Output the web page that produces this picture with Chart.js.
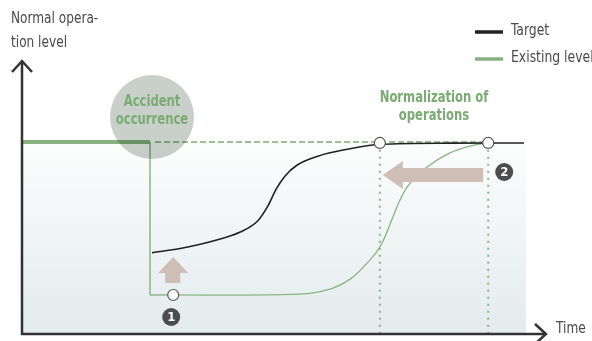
<!DOCTYPE html>
<html>
<head>
<meta charset="utf-8">
<script src="https://cdn.jsdelivr.net/npm/chart.js@4/dist/chart.umd.min.js"></script>
<style>
  html, body { margin: 0; padding: 0; background: #fff; }
  #wrap { width: 592px; height: 341px; position: relative; }
</style>
</head>
<body>
<div id="wrap"><canvas id="c"></canvas></div>
<script>
// time runs 0..100, operation level 0..100 (100 = normal)
const targetTime  = [25.8, 31.9, 37.9, 43.3, 46.8, 48.8, 50.4, 52.2, 54.6, 58.7, 64.1, 71.2, 84.9, 99.6];
const targetLevel = [42.3, 44.8, 48.4, 53.1, 59.0, 66.7, 75.3, 82.3, 88.0, 92.6, 96.0, 98.8, 99.4, 99.5];

const existingTime  = [25.4, 55.2, 61.1, 65.1, 68.1, 71.0, 73.6, 75.0, 77.0, 80.4, 84.9, 88.9, 92.5];
const existingLevel = [20.3, 20.8, 23.4, 28.6, 35.9, 45.3, 60.9, 69.8, 78.6, 87.0, 94.3, 97.9, 99.5];

const normalTime  = [0, 25.4];
const normalLevel = [100, 100];

const accidentTime = 25.4;
const dropLevel = 20.3;
const normalizedTime = [71.0, 92.5];

const markerTime  = [30.0, 71.0, 92.5];
const markerLevel = [20.3, 99.5, 99.5];

const labels = {
  yTitle: ['Normal opera-', 'tion level'],
  xTitle: 'Time',
  accident: ['Accident', 'occurrence'],
  normalization: ['Normalization of', 'operations'],
  legend: ['Target', 'Existing level']
};

const FONT = "'DejaVu Sans Condensed', 'Liberation Sans Narrow', sans-serif";
const GREEN = '#7aab72';
const pts = (xs, ys) => xs.map((x, i) => ({ x, y: ys[i] }));

// narrow text: the original uses a condensed face
function text(ctx, s, x, y, sx) {
  ctx.save();
  ctx.translate(x, y);
  ctx.scale(sx, 1);
  ctx.fillText(s, 0, 0);
  ctx.restore();
}

const decor = {
  id: 'decor',
  beforeDatasetsDraw(chart) {
    const { ctx, chartArea: a } = chart;
    const g = ctx.createLinearGradient(0, a.top, 0, a.bottom);
    g.addColorStop(0, '#fcfdfd');
    g.addColorStop(1, '#e3ebed');
    ctx.save();
    ctx.fillStyle = g;
    ctx.fillRect(a.left, a.top, a.right - a.left, a.bottom - a.top);
    ctx.restore();
  },
  afterDatasetsDraw(chart) {
    const { ctx, chartArea: a, scales: { x, y } } = chart;
    ctx.save();

    // axes with open arrow heads
    ctx.strokeStyle = '#333';
    ctx.lineWidth = 2.5;
    ctx.beginPath();
    ctx.moveTo(a.left, a.bottom + 1);
    ctx.lineTo(a.left, 61);
    ctx.moveTo(a.left - 10, 72);
    ctx.lineTo(a.left, 61);
    ctx.lineTo(a.left + 10, 72);
    ctx.moveTo(a.left - 1, a.bottom);
    ctx.lineTo(a.right + 20, a.bottom);
    ctx.moveTo(a.right + 9, a.bottom - 10);
    ctx.lineTo(a.right + 20, a.bottom);
    ctx.lineTo(a.right + 9, a.bottom + 10);
    ctx.stroke();

    // accident circle
    const cx = x.getPixelForValue(accidentTime) + 2;
    const cy = y.getPixelForValue(100) - 25;
    ctx.globalCompositeOperation = 'multiply';
    ctx.fillStyle = '#c9d0c9';
    ctx.beginPath();
    ctx.arc(cx, cy, 42, 0, Math.PI * 2);
    ctx.fill();
    ctx.globalCompositeOperation = 'source-over';

    ctx.fillStyle = GREEN;
    ctx.font = 'bold 15px ' + FONT;
    ctx.textAlign = 'center';
    ctx.textBaseline = 'middle';
    text(ctx, labels.accident[0], cx, cy - 15, 0.86);
    text(ctx, labels.accident[1], cx, cy + 3, 0.86);

    const nx = (x.getPixelForValue(normalizedTime[0]) + x.getPixelForValue(normalizedTime[1])) / 2;
    text(ctx, labels.normalization[0], nx, 98, 0.86);
    text(ctx, labels.normalization[1], nx, 116, 0.86);

    // left pointing arrow between the two normalisation times
    const x0 = x.getPixelForValue(normalizedTime[0]) + 3;
    const x1 = x.getPixelForValue(normalizedTime[1]) - 5;
    const ay = 175;
    ctx.fillStyle = '#cdbfb6';
    ctx.beginPath();
    ctx.moveTo(x0, ay);
    ctx.lineTo(x0 + 20, ay - 14);
    ctx.lineTo(x0 + 20, ay - 7);
    ctx.lineTo(x1, ay - 7);
    ctx.lineTo(x1, ay + 7);
    ctx.lineTo(x0 + 20, ay + 7);
    ctx.lineTo(x0 + 20, ay + 14);
    ctx.closePath();
    ctx.fill();

    // small up arrow
    const ux = x.getPixelForValue(markerTime[0]);
    ctx.beginPath();
    ctx.moveTo(ux, 257);
    ctx.lineTo(ux + 15, 273);
    ctx.lineTo(ux + 7, 273);
    ctx.lineTo(ux + 7, 283);
    ctx.lineTo(ux - 8, 283);
    ctx.lineTo(ux - 8, 273);
    ctx.lineTo(ux - 15, 273);
    ctx.closePath();
    ctx.fill();

    // numbered badges
    const badge = (bx, by, n) => {
      ctx.fillStyle = '#4d4d4d';
      ctx.beginPath();
      ctx.arc(bx, by, 9, 0, Math.PI * 2);
      ctx.fill();
      ctx.fillStyle = '#fff';
      ctx.font = 'bold 13px ' + FONT;
      ctx.fillText(n, bx, by + 1);
    };
    badge(ux - 2, 317, '1');
    badge(x.getPixelForValue(normalizedTime[1]) + 16, 172, '2');

    // titles
    ctx.fillStyle = '#4a4a4a';
    ctx.font = '15px ' + FONT;
    ctx.textAlign = 'left';
    text(ctx, labels.yTitle[0], 11, 19, 0.9);
    text(ctx, labels.yTitle[1], 11, 43, 0.9);
    text(ctx, labels.xTitle, a.right + 30, a.bottom - 5, 0.9);

    // legend
    ctx.lineWidth = 3.5;
    ctx.strokeStyle = '#222';
    ctx.beginPath();
    ctx.moveTo(475, 32); ctx.lineTo(503, 32);
    ctx.stroke();
    ctx.strokeStyle = '#86b27f';
    ctx.beginPath();
    ctx.moveTo(475, 59); ctx.lineTo(503, 59);
    ctx.stroke();
    text(ctx, labels.legend[0], 511, 31, 0.92);
    text(ctx, labels.legend[1], 511, 58, 0.92);

    ctx.restore();
  }
};

new Chart(document.getElementById('c'), {
  type: 'line',
  data: {
    datasets: [
      {
        label: 'markers',
        data: pts(markerTime, markerLevel),
        showLine: false,
        pointRadius: 5.5,
        pointBackgroundColor: '#fff',
        pointBorderColor: '#555',
        pointBorderWidth: 1.2,
        order: 0
      },
      {
        label: 'Target',
        data: pts(targetTime, targetLevel),
        borderColor: '#222',
        borderWidth: 1.6,
        cubicInterpolationMode: 'monotone',
        pointRadius: 0,
        order: 1
      },
      {
        label: 'Existing level',
        data: pts(existingTime, existingLevel),
        borderColor: '#88b581',
        borderWidth: 1.3,
        tension: 0.4,
        pointRadius: 0,
        order: 2
      },
      {
        label: 'drop',
        data: [{ x: accidentTime, y: 100 }, { x: accidentTime, y: dropLevel }],
        borderColor: GREEN,
        borderWidth: 1.3,
        pointRadius: 0,
        order: 3
      },
      {
        label: 'normal',
        data: pts(normalTime, normalLevel),
        borderColor: '#86b27f',
        borderWidth: 4,
        pointRadius: 0,
        order: 3
      },
      {
        label: 'normal level',
        data: [{ x: accidentTime + 1, y: 100 }, { x: normalizedTime[1], y: 100 }],
        borderColor: GREEN,
        borderWidth: 1.3,
        borderDash: [6, 3],
        pointRadius: 0,
        order: 4
      },
      ...normalizedTime.map(t => ({
        label: 'normalized',
        data: [{ x: t, y: 96 }, { x: t, y: 0 }],
        borderColor: '#8ab583',
        borderWidth: 2,
        borderDash: [2, 5],
        pointRadius: 0,
        order: 5
      }))
    ]
  },
  options: {
    responsive: true,
    maintainAspectRatio: false,
    animation: false,
    clip: false,
    layout: { padding: { left: 22, right: 66, top: 142, bottom: 7 } },
    scales: {
      x: { type: 'linear', min: 0, max: 100, display: false },
      y: { min: 0, max: 100, display: false }
    },
    plugins: { legend: { display: false }, tooltip: { enabled: false } },
    events: []
  },
  plugins: [decor]
});
</script>
</body>
</html>
